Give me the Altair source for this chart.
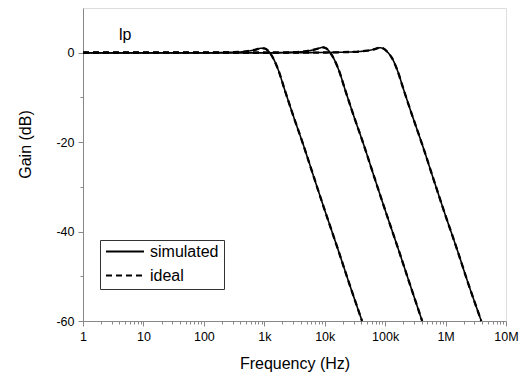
import altair as alt
import pandas as pd

# ---- values ----
freq_1k = [1, 10, 100, 300, 500, 700, 900, 1000, 1200, 1400, 1700, 2200, 3000, 4400, 6600, 10000, 16600, 25000, 41500]
gain_1k = [0, 0, 0, 0.1, 0.3, 0.65, 1.0, 0.95, 0.2, -1.2, -3.8, -8.5, -14, -20.5, -27.8, -35.2, -44, -51.3, -60]

freq_10k = [1, 100, 1000, 3000, 5000, 7000, 9300, 10500, 12000, 14000, 17000, 22000, 30000, 44000, 66000, 100000, 166000, 250000, 410000]
gain_10k = [0, 0, 0, 0.1, 0.35, 0.75, 1.2, 1.0, 0.2, -1.2, -3.8, -8.5, -14, -20.5, -27.8, -35.2, -44, -51.3, -60]

freq_100k = [1, 1000, 10000, 30000, 50000, 65000, 83000, 95000, 110000, 130000, 158000, 205000, 280000, 410000, 615000, 930000, 1550000, 2330000, 3900000]
gain_100k = [0, 0, 0.05, 0.2, 0.45, 0.75, 1.1, 0.9, 0.1, -1.2, -3.8, -8.5, -14, -20.5, -27.8, -35.2, -44, -51.3, -60]

series_types = ["simulated", "ideal"]
x_ticks = [m * d for d in [1, 10, 100, 1000, 10000, 100000, 1000000] for m in range(1, 10)] + [10000000]
y_ticks = [-60, -50, -40, -30, -20, -10, 0]
annotation = "lp"

# ---- long table ----
rows = []
for t in series_types:
    for name, fs, gs in [("c1", freq_1k, gain_1k), ("c2", freq_10k, gain_10k), ("c3", freq_100k, gain_100k)]:
        for i, (f, g) in enumerate(zip(fs, gs)):
            rows.append({"freq": f, "gain": g, "curve": t + name, "type": t, "weight": t + "_w", "order": i})
df = pd.DataFrame(rows)

FONT = "Liberation Sans"
xscale = alt.Scale(type="log", domain=[1, 10000000], nice=False)
yscale = alt.Scale(domain=[-60, 10], nice=False, zero=False)

x_major = "abs(log(datum.value)/LN10 - round(log(datum.value)/LN10)) < 0.001"
y_major = "datum.value % 20 == 0"

lines = alt.Chart(df).mark_line(color="black", interpolate="monotone").encode(
    x=alt.X("freq:Q", scale=xscale,
            axis=alt.Axis(values=x_ticks, title="Frequency (Hz)", orient="bottom",
                          labelExpr="(" + x_major + ") ? (datum.value >= 1000000 ? (datum.value/1000000) + 'M' : datum.value >= 1000 ? (datum.value/1000) + 'k' : '' + datum.value) : ''",
                          tickSize={"condition": {"test": x_major, "value": 5}, "value": 3},
                          labelPadding=4, titlePadding=13, grid=False, labelOverlap=False,
                          labelFontSize=12.5, titleFontSize=16, labelFlush=False,
                          titleFontWeight="normal", titleFont=FONT, labelFont=FONT)),
    y=alt.Y("gain:Q", scale=yscale,
            axis=alt.Axis(values=y_ticks, title="Gain (dB)", orient="left",
                          labelExpr="(" + y_major + ") ? '' + datum.value : ''",
                          tickSize={"condition": {"test": y_major, "value": 5}, "value": 3},
                          labelPadding=4, grid=False, labelFontSize=12.5, titleFontSize=16,
                          labelOverlap=False, titleY=136, titleX=-50,
                          titleFontWeight="normal", titleFont=FONT, labelFont=FONT)),
    detail="curve:N",
    order="order:Q",
    strokeWidth=alt.StrokeWidth("weight:N", scale=alt.Scale(domain=["simulated_w", "ideal_w"], range=[1.6, 2.3]), legend=None),
    strokeDash=alt.StrokeDash("type:N", scale=alt.Scale(domain=series_types, range=[[1, 0], [6, 4]]),
                              legend=alt.Legend(title=None, orient="none", legendX=17, legendY=232,
                                                strokeColor="#333", padding=5, symbolType="stroke",
                                                symbolSize=1444, symbolStrokeWidth=1.8, symbolStrokeColor="black",
                                                labelFontSize=16, labelOffset=5, clipHeight=13, rowPadding=7,
                                                labelFont=FONT, labelColor="black")),
)

label = alt.Chart(pd.DataFrame({"freq": [5], "gain": [2.8], "t": [annotation]})).mark_text(
    font=FONT, fontSize=16, align="center", baseline="alphabetic", color="black"
).encode(x=alt.X("freq:Q", scale=xscale), y=alt.Y("gain:Q", scale=yscale), text="t:N")

chart = alt.layer(lines, label).properties(
    width=423, height=313,
    autosize=alt.AutoSizeParams(type="none"),
    padding={"left": 83, "top": 8, "right": 15, "bottom": 53},
).configure_view(stroke="black", strokeWidth=1.3).configure_axis(
    domainColor="black", domainWidth=1.3, tickColor="black", tickWidth=1.2,
    labelColor="#111", titleColor="#111"
).configure(background="white")

chart.save("out.html", embed_options={"renderer": "svg", "actions": False})
